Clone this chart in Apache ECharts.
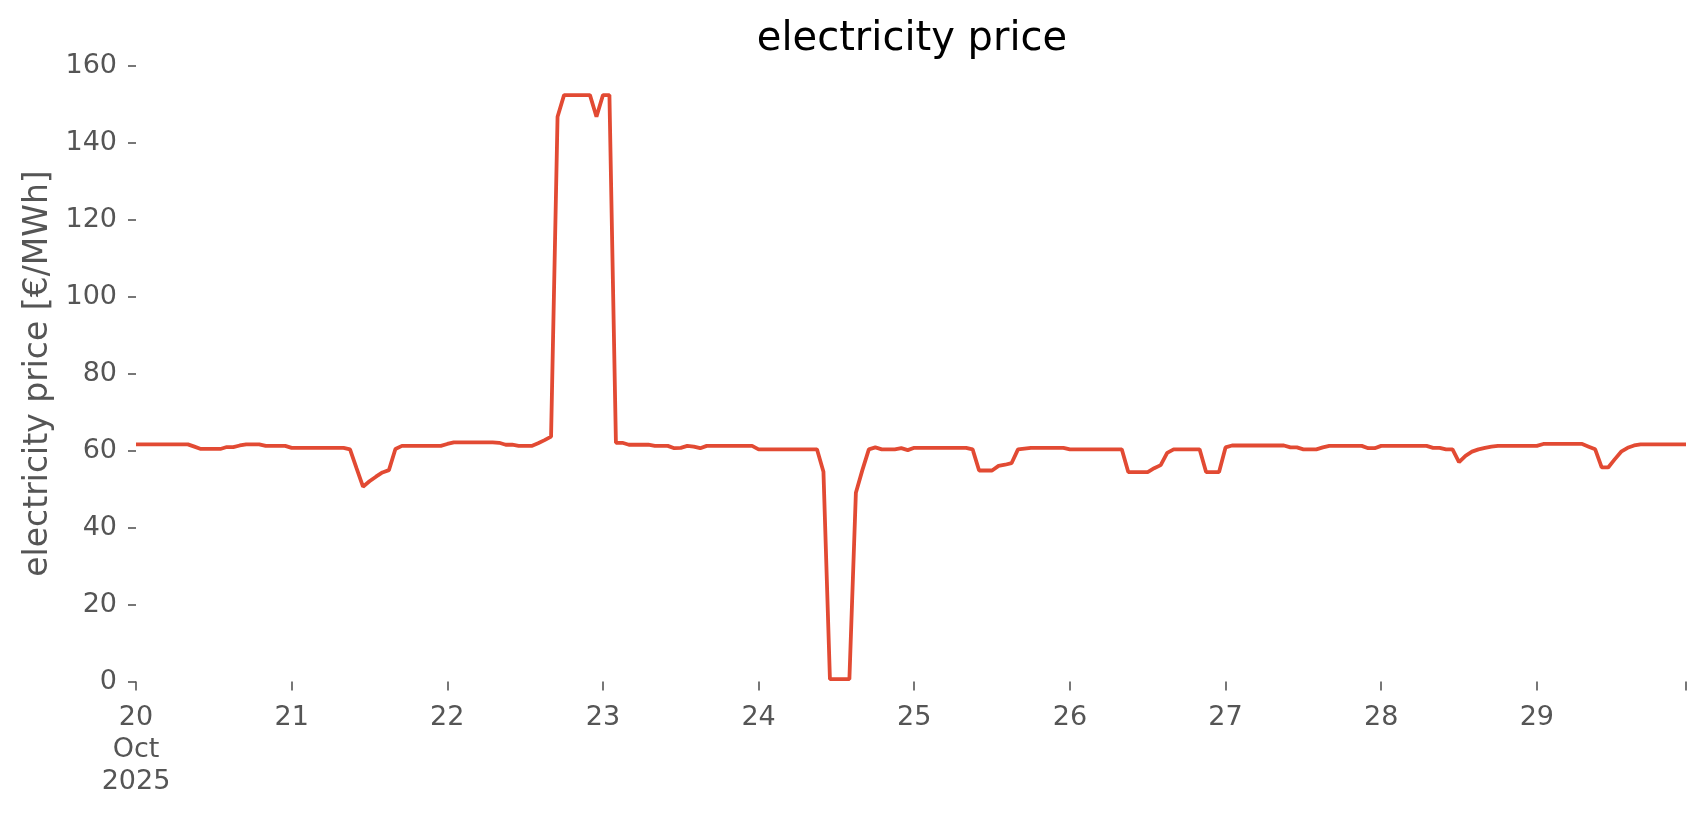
<!DOCTYPE html>
<html>
<head>
<meta charset="utf-8">
<script src="https://cdn.jsdelivr.net/npm/echarts@6/dist/echarts.min.js"></script>
<style>
  html, body { margin: 0; padding: 0; background: #ffffff; }
  #chart { width: 1706px; height: 815px; }
</style>
</head>
<body>
<div id="chart"></div>
<script>
// Hourly electricity price [€/MWh], Oct 20 00:00 – Oct 29 23:00, 2025
const day20 = [61.6,61.6,61.6,61.6,61.6,61.6,61.6,61.6,61.6,61.0,60.4,60.4,60.4,60.4,60.9,60.9,61.3,61.6,61.6,61.6,61.2,61.2,61.2,61.2];
const day21 = [60.7,60.7,60.7,60.7,60.7,60.7,60.7,60.7,60.7,60.3,55.4,50.6,52.0,53.2,54.3,54.9,60.4,61.2,61.2,61.2,61.2,61.2,61.2,61.2];
const day22 = [61.7,62.1,62.1,62.1,62.1,62.1,62.1,62.1,62.0,61.5,61.5,61.2,61.2,61.2,61.9,62.7,63.6,146.7,152.3,152.3,152.3,152.3,152.3,146.7];
const day23 = [152.3,152.3,62.0,62.0,61.5,61.5,61.5,61.5,61.2,61.2,61.2,60.6,60.7,61.2,61.0,60.6,61.2,61.2,61.2,61.2,61.2,61.2,61.2,61.2];
const day24 = [60.3,60.3,60.3,60.3,60.3,60.3,60.3,60.3,60.3,60.3,54.5,0.6,0.6,0.6,0.6,49.0,54.9,60.3,60.8,60.3,60.3,60.3,60.6,60.1];
const day25 = [60.7,60.7,60.7,60.7,60.7,60.7,60.7,60.7,60.7,60.3,54.8,54.8,54.8,56.0,56.3,56.7,60.3,60.5,60.7,60.7,60.7,60.7,60.7,60.7];
const day26 = [60.3,60.3,60.3,60.3,60.3,60.3,60.3,60.3,60.3,54.4,54.4,54.4,54.4,55.4,56.2,59.4,60.3,60.3,60.3,60.3,60.3,54.4,54.4,54.4];
const day27 = [60.8,61.3,61.3,61.3,61.3,61.3,61.3,61.3,61.3,61.3,60.8,60.8,60.3,60.3,60.3,60.8,61.2,61.2,61.2,61.2,61.2,61.2,60.6,60.6];
const day28 = [61.2,61.2,61.2,61.2,61.2,61.2,61.2,61.2,60.7,60.7,60.3,60.3,57.0,58.6,59.7,60.3,60.7,61.0,61.2,61.2,61.2,61.2,61.2,61.2];
const day29 = [61.2,61.7,61.7,61.7,61.7,61.7,61.7,61.7,61.0,60.3,55.6,55.6,57.7,59.7,60.7,61.3,61.6,61.6,61.6,61.6,61.6,61.6,61.6,61.6];

const tickLabels = ['20\nOct\n2025','21','22','23','24','25','26','27','28','29'];
const yTicks = [0,20,40,60,80,100,120,140,160];

const price = [].concat(day20, day21, day22, day23, day24, day25, day26, day27, day28, day29);
const seriesData = price.map((v, i) => [i, v]);
const lastHour = price.length - 1;
const labelValues = tickLabels.map((_, i) => i * 24);
const tickValues = labelValues.concat([lastHour]);

const FONT = 'DejaVu Sans';
const chart = echarts.init(document.getElementById('chart'), null, { renderer: 'canvas' });
chart.setOption({
  animation: false,
  backgroundColor: '#ffffff',
  title: {
    text: 'electricity price',
    left: 907,
    textAlign: 'center',
    top: 15,
    textStyle: { fontFamily: FONT, fontSize: 40, fontWeight: 'normal', color: '#000000' }
  },
  grid: { left: 136, right: 20, top: 65.5, bottom: 133.5, containLabel: false },
  xAxis: {
    type: 'value',
    min: 0,
    max: lastHour,
    interval: 24,
    splitLine: { show: false },
    axisLine: { show: false },
    axisTick: { show: true, length: 9, lineStyle: { color: '#555555', width: 1.6 }, customValues: tickValues },
    axisLabel: {
      show: true,
      customValues: labelValues,
      margin: 20,
      color: '#555555',
      fontFamily: FONT,
      fontSize: 27,
      lineHeight: 32,
      align: 'center',
      formatter: (v) => tickLabels[Math.round(v / 24)] || ''
    }
  },
  yAxis: {
    type: 'value',
    min: yTicks[0],
    max: yTicks[yTicks.length - 1],
    interval: 20,
    name: 'electricity price [€/MWh]',
    nameLocation: 'middle',
    nameGap: 81,
    nameTextStyle: { fontFamily: FONT, fontSize: 33, color: '#555555' },
    splitLine: { show: false },
    axisLine: { show: false },
    axisTick: { show: true, length: 8, lineStyle: { color: '#555555', width: 1.6 } },
    axisLabel: { margin: 19, color: '#555555', fontFamily: FONT, fontSize: 27 }
  },
  series: [{
    type: 'line',
    data: seriesData,
    showSymbol: false,
    symbol: 'none',
    lineStyle: { color: '#E24A33', width: 3.8 },
    itemStyle: { color: '#E24A33' }
  }]
});
</script>
</body>
</html>
